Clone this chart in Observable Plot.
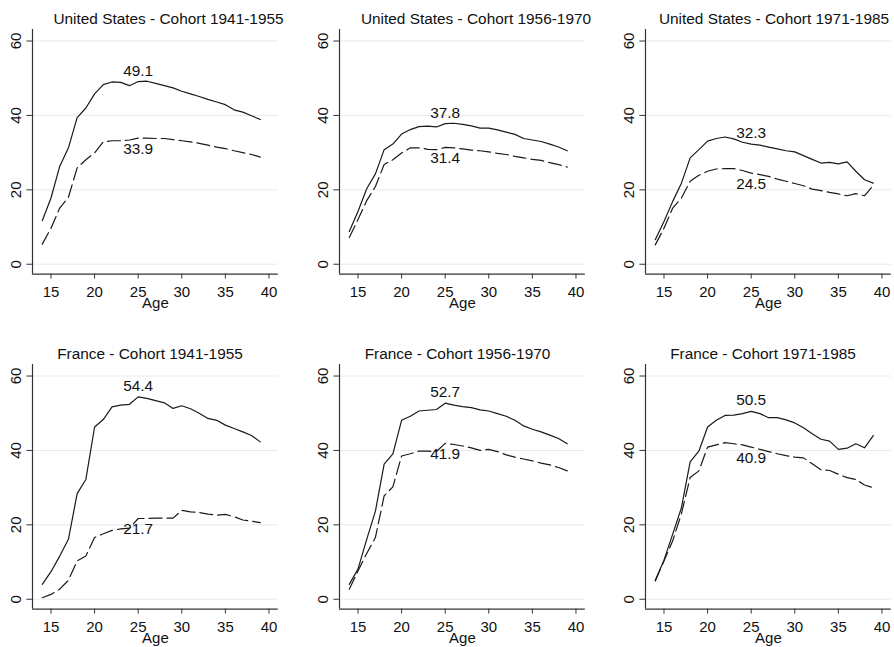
<!DOCTYPE html>
<html>
<head>
<meta charset="utf-8">
<script src="https://cdn.jsdelivr.net/npm/d3@7"></script>
<script src="https://cdn.jsdelivr.net/npm/@observablehq/plot@0.6"></script>
<style>
  html, body { margin: 0; padding: 0; background: #fff; overflow: hidden; }
  #chart { position: relative; width: 894px; height: 647px; font-family: "Liberation Sans", Arial, sans-serif; }
  .title { position: absolute; width: 320px; text-align: center; font-size: 15.4px; line-height: 15.4px; color: #111; white-space: nowrap; z-index: 2; }
  .panel { position: absolute; z-index: 1; }
</style>
</head>
<body>
<div id="chart"></div>
<script>
// ---- data ----
const ages = [14,15,16,17,18,19,20,21,22,23,24,25,26,27,28,29,30,31,32,33,34,35,36,37,38,39];
const xTicks = [15,20,25,30,35,40];
const yTicks = [0,20,40,60];
const labelAge = 25;

const titles = [
  "United States - Cohort 1941-1955",
  "United States - Cohort 1956-1970",
  "United States - Cohort 1971-1985",
  "France - Cohort 1941-1955",
  "France - Cohort 1956-1970",
  "France - Cohort 1971-1985"
];

const us4155Solid  = [11.7,17.8,26.3,31.3,39.4,42.0,45.8,48.3,49.0,48.9,48.0,49.1,49.2,48.6,48.0,47.4,46.5,45.8,45.1,44.3,43.6,42.9,41.5,40.9,39.9,38.9];
const us4155Dashed = [5.4,9.7,15.1,18.0,25.9,28.1,29.9,32.9,33.2,33.2,33.4,33.9,33.9,33.8,33.8,33.5,33.2,32.9,32.5,32.0,31.5,31.1,30.5,30.0,29.5,28.8];
const us5670Solid  = [8.8,14.2,20.3,24.3,30.8,32.3,35.0,36.2,37.0,37.1,36.9,37.8,37.9,37.6,37.2,36.6,36.6,36.1,35.5,34.9,33.8,33.4,33.0,32.3,31.5,30.5];
const us5670Dashed = [7.2,12.0,17.1,20.9,26.8,28.1,29.9,31.3,31.3,30.9,30.8,31.4,31.3,31.0,30.7,30.5,30.2,29.8,29.5,29.0,28.6,28.2,27.9,27.3,26.8,26.1];
const us7185Solid  = [6.6,11.5,16.9,21.8,28.6,30.8,33.1,33.8,34.2,33.7,32.8,32.3,32.0,31.5,31.0,30.5,30.2,29.2,28.2,27.2,27.4,27.0,27.5,25.0,22.7,21.8];
const us7185Dashed = [5.2,9.7,15.1,17.8,22.3,23.9,25.0,25.6,25.7,25.7,25.2,24.5,24.1,23.6,22.9,22.3,21.7,21.1,20.2,19.8,19.3,18.9,18.4,19.0,18.4,21.2];
const fr4155Solid  = [4.0,7.4,11.6,16.1,28.4,32.2,46.3,48.3,51.7,52.2,52.4,54.4,54.0,53.4,52.8,51.3,52.0,51.2,50.0,48.6,48.1,46.8,45.9,45.0,44.0,42.3];
const fr4155Dashed = [0.4,1.3,2.7,5.1,10.3,11.6,16.6,17.6,18.5,18.9,19.1,21.7,21.7,21.8,21.8,21.8,23.9,23.5,23.3,22.9,22.6,22.8,22.2,21.3,21.0,20.6];
const fr5670Solid  = [4.0,8.1,16.1,23.7,36.3,39.1,48.1,49.2,50.6,50.8,51.0,52.7,52.2,51.8,51.5,50.9,50.6,49.9,49.2,48.1,46.6,45.7,45.0,44.1,43.2,41.8];
const fr5670Dashed = [2.7,7.6,12.3,16.6,27.8,30.2,38.5,39.1,39.8,39.8,39.7,41.9,41.6,41.2,40.7,40.0,40.3,39.7,38.8,38.2,37.7,37.2,36.6,36.1,35.4,34.5];
const fr7185Solid  = [5.1,10.5,17.5,24.6,36.9,39.8,46.3,48.1,49.4,49.5,49.9,50.5,49.9,48.8,48.8,48.2,47.4,46.1,44.5,43.0,42.5,40.3,40.6,41.8,40.7,44.0];
const fr7185Dashed = [4.9,10.3,15.7,23.0,32.7,34.5,40.9,41.5,42.1,41.8,41.5,40.9,40.3,39.7,39.1,38.6,38.2,38.0,36.4,34.8,34.6,33.6,32.7,32.2,30.7,30.0];

const solidSeries  = [us4155Solid, us5670Solid, us7185Solid, fr4155Solid, fr5670Solid, fr7185Solid];
const dashedSeries = [us4155Dashed, us5670Dashed, us7185Dashed, fr4155Dashed, fr5670Dashed, fr7185Dashed];

// ---- layout ----
const font = "'Liberation Sans', Arial, sans-serif";
const xDomain = [12.88, 41.07];
const yDomain = [-2.65, 63.1];
const regionW = 245.8, regionH = 244.6;
const mL = 33, mR = 3, mT = 8, mB = 40;
const regionLeft = [32.3, 338.5, 644.7];
const regionTop = [28.5, 363.5];
const titleCenter = [168.5, 476, 774, 150, 457.5, 763];
const titleBaseline = [24, 359];

const chart = document.getElementById("chart");
const ink = "#1a1a1a";

for (let i = 0; i < 6; i++) {
  const col = i % 3, row = Math.floor(i / 3);
  const solid = ages.map((a, k) => ({age: a, v: solidSeries[i][k]}));
  const dashed = ages.map((a, k) => ({age: a, v: dashedSeries[i][k]}));
  const plot = Plot.plot({
    width: mL + regionW + mR,
    height: mT + regionH + mB,
    marginLeft: mL, marginRight: mR, marginTop: mT, marginBottom: mB,
    style: {fontFamily: font, background: "transparent", overflow: "visible", maxWidth: "none"},
    x: {domain: xDomain, axis: null},
    y: {domain: yDomain, axis: null},
    marks: [
      Plot.ruleY(yTicks, {stroke: "#e9e9e9", strokeWidth: 1}),
      Plot.ruleX([xDomain[0]], {stroke: "#333", strokeWidth: 1.2}),
      Plot.ruleY([yDomain[0]], {stroke: "#333", strokeWidth: 1.2}),
      Plot.axisX({ticks: xTicks, tickSize: 5, tickPadding: 7, fontSize: 15, label: null, stroke: "#333", fill: "#111"}),
      Plot.axisY({ticks: yTicks, tickSize: 5.6, tickFormat: () => "", label: null, stroke: "#333"}),
      Plot.text(yTicks, {y: d => d, frameAnchor: "left", dx: -11.6, rotate: -90, text: d => String(d),
        textAnchor: "middle", lineAnchor: "bottom", fontSize: 15, fill: "#111"}),
      Plot.text(["Age"], {frameAnchor: "bottom", dy: 34, lineAnchor: "bottom", text: d => d, fontSize: 15, fill: "#111"}),
      Plot.line(dashed, {x: "age", y: "v", stroke: ink, strokeWidth: 1.2, strokeDasharray: "13,5"}),
      Plot.line(solid, {x: "age", y: "v", stroke: ink, strokeWidth: 1.2}),
      Plot.text(solid.filter(d => d.age === labelAge), {x: "age", y: "v", text: d => d.v.toFixed(1), dy: -11, lineAnchor: "middle", fontSize: 15.4, fill: "#111"}),
      Plot.text(dashed.filter(d => d.age === labelAge), {x: "age", y: "v", text: d => d.v.toFixed(1), dy: 11, lineAnchor: "middle", fontSize: 15.4, fill: "#111"})
    ]
  });
  const wrap = document.createElement("div");
  wrap.className = "panel";
  wrap.style.left = (regionLeft[col] - mL) + "px";
  wrap.style.top = (regionTop[row] - mT) + "px";
  wrap.appendChild(plot);
  chart.appendChild(wrap);
}

for (let i = 0; i < 6; i++) {
  const row = Math.floor(i / 3);
  const t = document.createElement("div");
  t.className = "title";
  t.textContent = titles[i];
  t.style.left = (titleCenter[i] - 160) + "px";
  t.style.top = (titleBaseline[row] - 13) + "px";
  chart.appendChild(t);
}
</script>
</body>
</html>
